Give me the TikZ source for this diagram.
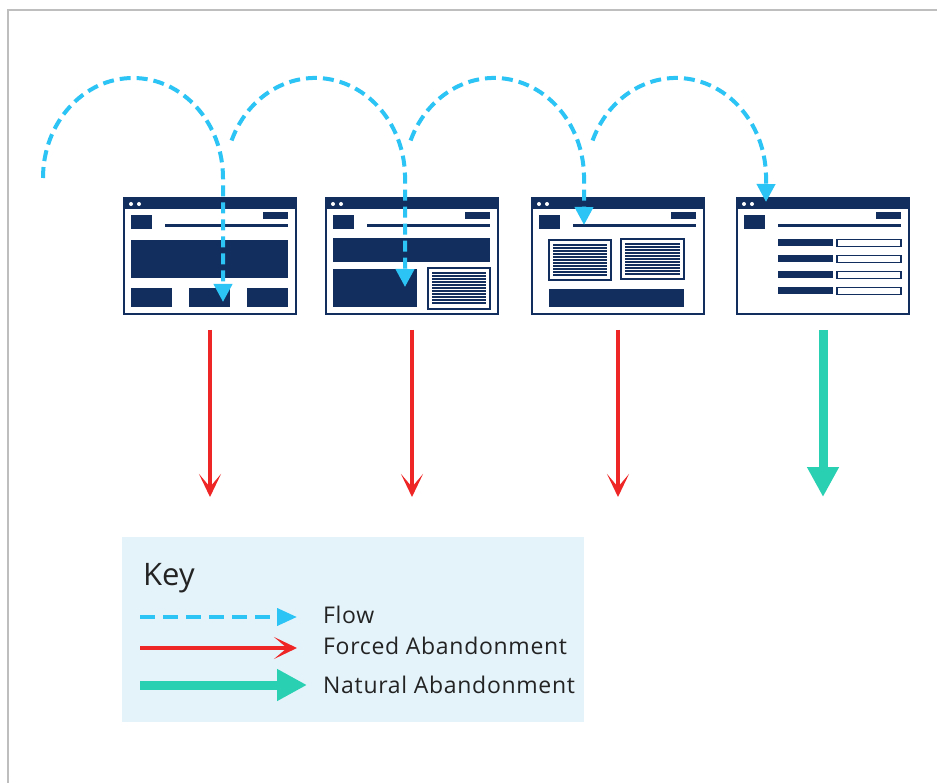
\documentclass[tikz,border=0pt]{standalone}
\usepackage{fontspec}
\setmainfont{Open Sans}
\usetikzlibrary{arrows.meta}
\definecolor{navy}{RGB}{18,46,94}
\definecolor{flowblue}{RGB}{44,196,245}
\definecolor{forcered}{RGB}{238,38,38}
\definecolor{natgreen}{RGB}{42,208,178}
\definecolor{keybg}{RGB}{228,243,250}
\definecolor{framegray}{RGB}{190,190,190}
\definecolor{keygray}{RGB}{35,35,35}
\newcommand\stripebox[4]{%
  \draw[navy, line width=1.5pt, fill=white] (#1,#2) rectangle (#3,#4);
  \foreach \i in {0,...,10}{\draw[navy, line width=1.4pt] ({#1+4},{#2+5+3*\i}) -- ({#3-4},{#2+5+3*\i});}%
}
\newcommand\wintop{%
  \fill[navy] (0,0) rectangle (172,11);
  \fill[white] (7,6) circle (2pt) (15,6) circle (2pt);
  \fill[navy] (7,17) rectangle (28,31);
  \fill[navy] (139,14) rectangle (164,21);
  \draw[navy, line width=3pt] (41,28) -- (164,28);
}
\begin{document}
\begin{tikzpicture}[x=1pt,y=-1pt,
  browser/.style={draw=navy, line width=2pt, fill=white, minimum width=172pt, minimum height=116pt, inner sep=0pt, outer sep=0pt, anchor=north west},
  flow/.style={flowblue, line width=4pt, dash pattern=on 11pt off 6pt, -{Triangle[length=18pt,width=18pt]}},
  forced/.style={forcered, line width=3.5pt, -{Stealth[length=23pt,width=22pt,inset=13pt]}},
  natural/.style={natgreen, line width=9pt, -{Triangle[length=30pt,width=30pt]}},
  keytext/.style={anchor=base west, inner sep=0pt, text=keygray, font=\fontsize{23}{27}\selectfont\addfontfeature{LetterSpace=3}},
]
\useasboundingbox (0,0) rectangle (937,783);
\fill[white] (0,0) rectangle (937,783);
\draw[framegray, line width=1.5pt] (937,10) -- (8,10) -- (8,783);

% windows
\node[browser] (w1) at (124,198) {};
\node[browser] (w2) at (326,198) {};
\node[browser] (w3) at (532,198) {};
\node[browser] (w4) at (737,198) {};

\begin{scope}[shift={(w1.north west)}]
  \wintop
  \fill[navy] (7,42) rectangle (164,80);
  \fill[navy] (7,90) rectangle (48,109);
  \fill[navy] (65,90) rectangle (106,109);
  \fill[navy] (123,90) rectangle (164,109);
\end{scope}
\begin{scope}[shift={(w2.north west)}]
  \wintop
  \fill[navy] (7,40) rectangle (164,64);
  \fill[navy] (7,71) rectangle (91,109);
  \stripebox{102}{70}{164}{111}
\end{scope}
\begin{scope}[shift={(w3.north west)}]
  \wintop
  \stripebox{17}{42}{79}{82}
  \stripebox{89}{41}{152}{81}
  \fill[navy] (17,91) rectangle (152,109);
\end{scope}
\begin{scope}[shift={(w4.north west)}]
  \wintop
  \foreach \yy in {45,61,77,93}{
    \fill[navy] (41,{\yy-3.5}) rectangle (96,{\yy+3.5});
    \draw[navy, line width=1.5pt, fill=white] (100,{\yy-3.5}) rectangle (164,{\yy+3.5});
  }
\end{scope}

% flow arcs
\coordinate (s1) at (43,178);
\coordinate (s2) at (231.6,140.5);
\coordinate (s3) at (410.6,140.5);
\coordinate (s4) at (592.6,140.5);
\coordinate (f1) at (223,302);
\coordinate (f2) at (405,287);
\coordinate (f3) at (584,225);
\coordinate (f4) at (766,202);
\draw[flow] (s1) arc[start angle=180, end angle=0, x radius=90pt, y radius=100pt] -- (f1);
\draw[flow] (s2) arc[start angle=158, end angle=0, x radius=90pt, y radius=100pt] -- (f2);
\draw[flow] (s3) arc[start angle=158, end angle=0, x radius=90pt, y radius=100pt] -- (f3);
\draw[flow] (s4) arc[start angle=158, end angle=0, x radius=90pt, y radius=100pt] -- (f4);

% abandonment arrows
\coordinate (e1) at (210,497);
\coordinate (e2) at (412,497);
\coordinate (e3) at (618,497);
\coordinate (e4) at (823,497);
\draw[forced] ([yshift=-16pt]w1.south) -- (e1);
\draw[forced] ([yshift=-16pt]w2.south) -- (e2);
\draw[forced] ([yshift=-16pt]w3.south) -- (e3);
\draw[natural] ([yshift=-16pt]w4.south) -- (e4);

% key
\node[fill=keybg, anchor=north west, minimum width=462pt, minimum height=185pt, inner sep=0pt] (key) at (122,537) {};
\node[anchor=base west, inner sep=0pt, text=keygray, font=\fontsize{31}{38}\selectfont] (keytitle) at (143,585) {Key};
\coordinate (kf0) at (140,617); \coordinate (kf1) at (297,617);
\coordinate (kr0) at (140,648); \coordinate (kr1) at (297,648);
\coordinate (kn0) at (140,685); \coordinate (kn1) at (307,685);
\draw[flow, dash pattern=on 15pt off 8pt, -{Triangle[length=20pt,width=17pt]}] (kf0) -- (kf1);
\draw[forced] (kr0) -- (kr1);
\draw[natural] (kn0) -- (kn1);
\node[keytext] (lflow) at (323,623) {Flow};
\node[keytext] (lforced) at (323,654) {Forced Abandonment};
\node[keytext] (lnatural) at (323,693) {Natural Abandonment};
\end{tikzpicture}
\end{document}
